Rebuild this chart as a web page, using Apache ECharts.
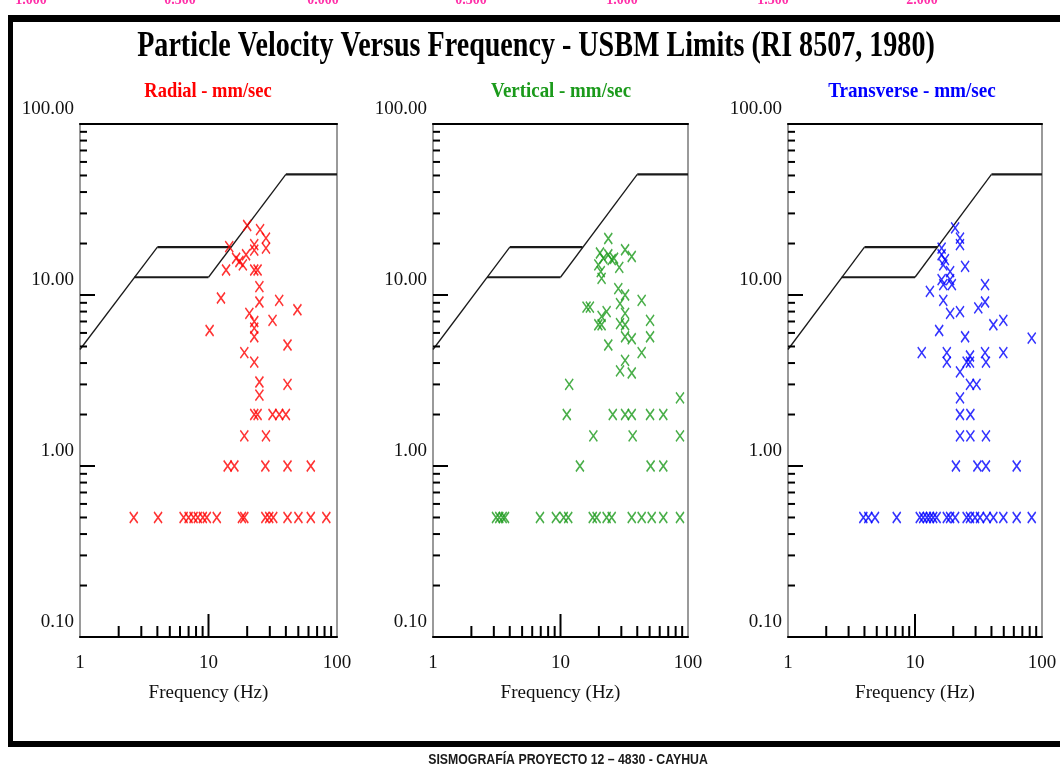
<!DOCTYPE html>
<html>
<head>
<meta charset="utf-8">
<title>Particle Velocity Versus Frequency - USBM Limits</title>
<script src="https://cdn.jsdelivr.net/npm/echarts@6.0.0/dist/echarts.min.js"></script>
<style>
  html, body { margin: 0; padding: 0; background: #fff; }
  #main { width: 1060px; height: 770px; }
</style>
</head>
<body>
<div id="main"></div>
<script>
// limites USBM RI 8507 (Hz, mm/s)
var limitSlopeLow = [[1, 4.8], [4.0, 19.05]]
var limitPlateauHigh = [[4.0, 19.05], [14.9, 19.05]]
var limitPlateauLow = [[2.65, 12.7], [10, 12.7]]
var limitSlopeHigh = [[10, 12.7], [40, 50.8]]
var limitPlateauTop = [[40, 50.8], [100, 50.8]]

// ticks
var xMinorTicks = [2, 3, 4, 5, 6, 7, 8, 9, 20, 30, 40, 50, 60, 70, 80, 90]
var xMajorTicks = [10]
var yMinorTicks = [0.2, 0.3, 0.4, 0.5, 0.6, 0.7, 0.8, 0.9, 2, 3, 4, 5, 6, 7, 8, 9, 20, 30, 40, 50, 60, 70, 80, 90]

// radial - [Hz, mm/s]
var radialPts = [
  [20, 25.5], [25.2, 24.1], [28, 21.5], [22.7, 19.7], [22.7, 18.3], [28, 18.8], [14.5, 19.2],
  [16.4, 16.4], [17.4, 15.7], [18.5, 15], [19.6, 17.2], [13.7, 14], [22.7, 14], [24.1, 14],
  [24.9, 11.2], [12.5, 9.6], [24.9, 9.1], [35.5, 9.3], [49.2, 8.2], [20.8, 7.8], [22.7, 7],
  [31.5, 7.1], [10.2, 6.2], [22.7, 6.4], [22.7, 5.7], [41.2, 5.1], [19, 4.6], [22.7, 4.05],
  [24.9, 3.1], [41.2, 3], [24.9, 2.6], [22.7, 2], [24.1, 2], [31.5, 2], [35.5, 2], [40, 2],
  [19, 1.5], [28, 1.5], [14.1, 1], [15.9, 1], [27.7, 1], [41.2, 1], [62.5, 1],
  [2.62, 0.5], [4.05, 0.5], [6.4, 0.5], [7.0, 0.5], [7.65, 0.5], [8.26, 0.5], [9.03, 0.5],
  [9.7, 0.5], [11.6, 0.5], [18.2, 0.5], [19.0, 0.5], [27.7, 0.5], [29.7, 0.5], [31.9, 0.5],
  [41.2, 0.5], [50.1, 0.5], [62.5, 0.5], [82.6, 0.5]
]

// vertical
var verticalPts = [
  [23.7, 21.4], [20.4, 17.6], [21.7, 16.4], [23.7, 17.2], [25.2, 16.1], [26.3, 16.4], [28.9, 14.5],
  [32.1, 18.4], [36.2, 16.8], [19.8, 15], [20.7, 13.7], [21, 12.5], [28.4, 10.9], [32.1, 10],
  [29.3, 8.9], [43.3, 9.3], [16, 8.5], [17, 8.5], [23, 8], [21, 7.5], [32.1, 7.8], [19.8, 6.7],
  [21, 6.7], [29.3, 6.8], [32.1, 6.7], [50.4, 7.1], [32.1, 5.7], [36.2, 5.55], [50.4, 5.7],
  [23.7, 5.1], [43.3, 4.6], [32.1, 4.15], [29.3, 3.6], [36.2, 3.5], [11.7, 3], [86.5, 2.5],
  [11.2, 2], [25.7, 2], [32.1, 2], [36.2, 2], [50.4, 2], [64, 2],
  [18.1, 1.5], [36.8, 1.5], [86.5, 1.5], [14.2, 1], [50.9, 1], [64, 1],
  [3.12, 0.5], [3.31, 0.5], [3.52, 0.5], [3.67, 0.5], [6.9, 0.5], [9.2, 0.5], [10.6, 0.5],
  [11.5, 0.5], [17.9, 0.5], [19.2, 0.5], [23, 0.5], [25.2, 0.5], [36.2, 0.5], [43.3, 0.5],
  [51.9, 0.5], [64, 0.5], [86.5, 0.5]
]

// transverse
var transversePts = [
  [20.7, 24.7], [22.6, 21.5], [22.6, 19.7], [16.2, 18.8], [16.2, 17.2], [17.2, 16.1], [16.7, 15],
  [18.9, 13.7], [24.8, 14.7], [16.2, 12.3], [18.9, 12.3], [16.7, 11.5], [19.5, 11.5], [13.1, 10.5],
  [16.7, 9.3], [35.6, 11.5], [18.9, 7.8], [22.6, 8], [31.5, 8.4], [35.6, 9.1], [41.4, 6.7],
  [49.6, 7.1], [15.5, 6.2], [24.8, 5.7], [83, 5.6], [11.3, 4.6], [17.8, 4.6], [17.8, 4.05],
  [27.1, 4.4], [25.5, 4.05], [27.1, 4.05], [35.6, 4.6], [36.2, 4.05], [49.6, 4.6], [22.6, 3.55],
  [27.1, 3], [30.5, 3], [22.6, 2.5], [22.6, 2], [27.3, 2], [22.6, 1.5], [27.3, 1.5], [36.2, 1.5],
  [21, 1], [31, 1], [36.2, 1], [63.2, 1],
  [3.92, 0.5], [4.29, 0.5], [4.84, 0.5], [7.18, 0.5], [10.9, 0.5], [11.6, 0.5], [12.4, 0.5],
  [13.1, 0.5], [13.9, 0.5], [14.8, 0.5], [17.8, 0.5], [18.9, 0.5], [20.7, 0.5], [25.5, 0.5],
  [27.1, 0.5], [29.7, 0.5], [32.5, 0.5], [36.7, 0.5], [41.4, 0.5], [49.6, 0.5], [63.2, 0.5],
  [83, 0.5]
]

var panels = [
  { name: 'Radial - mm/sec', color: '#ff0000', data: radialPts, left: 80, width: 257, cx: 208, sx: 0.84 },
  { name: 'Vertical - mm/sec', color: '#1b9a1b', data: verticalPts, left: 433, width: 255, cx: 561, sx: 0.86 },
  { name: 'Transverse - mm/sec', color: '#0000ff', data: transversePts, left: 788, width: 254, cx: 912, sx: 0.87 }
]

var serif = '"Liberation Serif", "Times New Roman", serif'
var xMark = 'path://M0,0 L10,14 M10,0 L0,14'

var grid = [], xAxis = [], yAxis = [], series = []
var graphic = [
  // marco negro
  { type: 'rect', shape: { x: 8, y: 15, width: 1052, height: 7 }, style: { fill: '#000' } },
  { type: 'rect', shape: { x: 8, y: 15, width: 5, height: 732 }, style: { fill: '#000' } },
  { type: 'rect', shape: { x: 8, y: 741, width: 1052, height: 6 }, style: { fill: '#000' } },
  {
    type: 'text', x: 536, y: 47, scaleX: 0.78,
    style: { text: 'Particle Velocity Versus Frequency - USBM Limits (RI 8507, 1980)', font: 'bold 36px ' + serif, fill: '#000', align: 'center', verticalAlign: 'middle' }
  },
  {
    type: 'text', x: 568, y: 760, scaleX: 0.82,
    style: { text: 'SISMOGRAFÍA PROYECTO 12 – 4830 - CAYHUA', font: 'bold 15px "Liberation Sans", Arial, sans-serif', fill: '#1a1a1a', align: 'center', verticalAlign: 'middle' }
  }
]

// restos de etiquetas rosadas arriba (cortadas)
var pinkLabels = ['1.000', '0.500', '0.000', '0.500', '1.000', '1.500', '2.000']
var pinkX = [31, 180, 323, 471, 622, 773, 922]
pinkLabels.forEach(function (t, i) {
  graphic.push({ type: 'text', x: pinkX[i], y: 0, style: { text: t, font: 'bold 14px ' + serif, fill: '#ff2fa8', align: 'center', verticalAlign: 'middle' } })
})

function tickItem(params, api) {
  var p = api.coord([api.value(0), api.value(1)])
  return {
    type: 'line',
    shape: { x1: p[0], y1: p[1], x2: p[0] + api.value(2), y2: p[1] + api.value(3) },
    style: { stroke: '#000', lineWidth: 2 }
  }
}

panels.forEach(function (p, i) {
  grid.push({ left: p.left, top: 124, width: p.width, height: 513, outerBoundsMode: 'none', show: false })

  xAxis.push({
    type: 'log', logBase: 10, min: 1, max: 100, gridIndex: i, position: 'bottom',
    axisLine: { show: true, lineStyle: { color: '#000', width: 2 } },
    axisTick: { show: false },
    splitLine: { show: false },
    axisLabel: { show: true, margin: 17, fontSize: 19, fontFamily: serif, color: '#111', showMinLabel: true, showMaxLabel: true, formatter: function (v) { return String(Math.round(v)) } },
    name: 'Frequency (Hz)', nameLocation: 'middle', nameGap: 47,
    nameTextStyle: { fontSize: 19, fontFamily: serif, color: '#111' }
  })
  xAxis.push({
    type: 'log', logBase: 10, min: 1, max: 100, gridIndex: i, position: 'top',
    axisLine: { show: true, lineStyle: { color: '#000', width: 2 } },
    axisTick: { show: false }, axisLabel: { show: false }, splitLine: { show: false }
  })
  yAxis.push({
    type: 'log', logBase: 10, min: 0.1, max: 100, gridIndex: i, position: 'left',
    axisLine: { show: true, lineStyle: { color: '#9a9a9a', width: 2 } },
    axisTick: { show: true, inside: true, length: 15, lineStyle: { color: '#000', width: 2 } },
    splitLine: { show: false },
    axisLabel: {
      show: true, margin: 6, fontSize: 19, fontFamily: serif, color: '#111',
      verticalAlign: 'bottom', padding: [0, 0, 5, 0],
      showMinLabel: true, showMaxLabel: true,
      formatter: function (v) { return v.toFixed(2) }
    }
  })
  yAxis.push({
    type: 'log', logBase: 10, min: 0.1, max: 100, gridIndex: i, position: 'right',
    axisLine: { show: true, lineStyle: { color: '#9a9a9a', width: 2 } },
    axisTick: { show: false }, axisLabel: { show: false }, splitLine: { show: false }
  })

  var xi = i * 2, yi = i * 2

  // ticks menores y mayores
  var xt = xMinorTicks.map(function (f) { return [f, 0.1, 0, -11] })
    .concat(xMajorTicks.map(function (f) { return [f, 0.1, 0, -23] }))
  var yt = yMinorTicks.map(function (v) { return [1, v, 7, 0] })
  series.push({ type: 'custom', xAxisIndex: xi, yAxisIndex: yi, renderItem: tickItem, data: xt.concat(yt), silent: true, clip: false, z: 3 })

  // lineas limite
  var thin = { color: '#1a1a1a', width: 1.3 }
  var thick = { color: '#1a1a1a', width: 2.2 }
  ;[[limitSlopeLow, thin], [limitPlateauHigh, thick], [limitPlateauLow, thick], [limitSlopeHigh, thin], [limitPlateauTop, thick]].forEach(function (l) {
    series.push({
      type: 'line', xAxisIndex: xi, yAxisIndex: yi, data: l[0], symbol: 'none',
      lineStyle: l[1], silent: true, z: 2
    })
  })

  series.push({
    name: p.name, type: 'scatter', xAxisIndex: xi, yAxisIndex: yi, data: p.data,
    symbol: xMark, symbolSize: [8, 11],
    itemStyle: { color: 'none', borderColor: p.color, borderWidth: 1.6 },
    z: 4
  })

  graphic.push({
    type: 'text', x: p.cx, y: 91, scaleX: p.sx,
    style: { text: p.name, font: 'bold 22px ' + serif, fill: p.color, align: 'center', verticalAlign: 'middle' }
  })
})

var myChart = echarts.init(document.getElementById('main'))
var option = {
  backgroundColor: '#fff',
  animation: false,
  grid: grid,
  xAxis: xAxis,
  yAxis: yAxis,
  series: series,
  graphic: graphic
}
myChart.setOption(option)
</script>
</body>
</html>
